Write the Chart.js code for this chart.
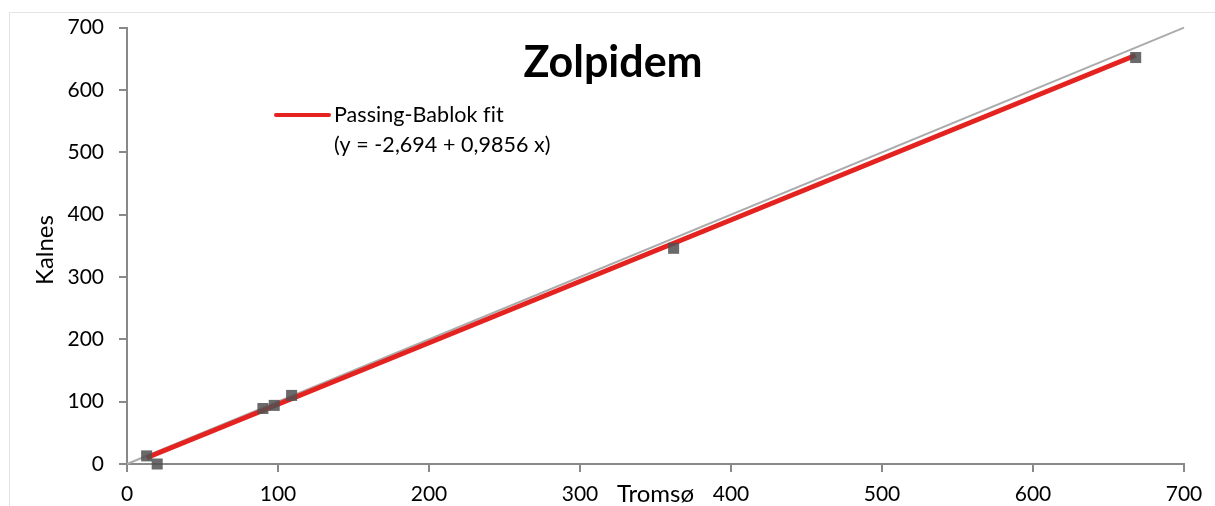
<!DOCTYPE html>
<html><head><meta charset="utf-8">
<script src="https://cdn.jsdelivr.net/npm/chart.js@4"></script>
<style>html,body{margin:0;padding:0;background:#fff;overflow:hidden}#wrap{width:1215px;height:506px;position:relative}canvas{display:block}</style>
</head><body><div id="wrap"><canvas id="c" width="1215" height="506" style="width:1215px;height:506px"></canvas></div>
<script>
const tromso = [13, 20, 90, 97.5, 109, 362, 668];
const kalnes = [13, 0, 89, 94, 110, 346, 652];
const fitIntercept = -2.694;
const fitSlope = 0.9856;
const identityLine = [0, 700];
const xTickValues = [0, 100, 200, 300, 400, 500, 600, 700];
const yTickValues = [0, 100, 200, 300, 400, 500, 600, 700];
const chartTitle = 'Zolpidem';
const legendLines = ['Passing-Bablok fit', '(y = -2,694 + 0,9856 x)'];
const xTitle = 'Tromsø';
const yTitle = 'Kalnes';

const FONT = 'Lato, "Open Sans", sans-serif';
const AXIS = '#898989';
const RED = '#e42320';

const points = tromso.map((x, i) => ({x: x, y: kalnes[i]}));
const xMin = Math.min(...tromso), xMax = Math.max(...tromso);
const fitPts = [xMin, xMax].map(x => ({x: x, y: fitIntercept + fitSlope * x}));
const idPts = identityLine.map(v => ({x: v, y: v}));

const decor = {
  id: 'decor',
  beforeDraw(chart) {
    const ctx = chart.ctx;
    ctx.save();
    ctx.strokeStyle = '#e3e3e3';
    ctx.lineWidth = 1;
    ctx.strokeRect(9.5, 12.5, 1400, 700);
    ctx.restore();
  },
  afterDraw(chart) {
    const ctx = chart.ctx;
    const a = chart.chartArea;
    ctx.save();
    ctx.fillStyle = '#000';
    ctx.font = 'bold 43px ' + FONT;
    ctx.textAlign = 'center';
    ctx.textBaseline = 'alphabetic';
    ctx.fillText(chartTitle, 613, 77);
    ctx.strokeStyle = RED;
    ctx.lineWidth = 4;
    ctx.lineCap = 'round';
    ctx.beginPath();
    ctx.moveTo(276, 115);
    ctx.lineTo(329, 115);
    ctx.stroke();
    ctx.font = '21.5px ' + FONT;
    ctx.textAlign = 'left';
    if ('letterSpacing' in ctx) ctx.letterSpacing = '0.05px';
    ctx.fillText(legendLines[0], 334, 122);
    ctx.fillText(legendLines[1], 334, 152);
    if ('letterSpacing' in ctx) ctx.letterSpacing = '0px';
    ctx.font = '24px ' + FONT;
    ctx.textAlign = 'center';
    ctx.fillText(xTitle, (a.left + a.right) / 2, 502);
    ctx.translate(53, 250);
    ctx.rotate(-Math.PI / 2);
    ctx.fillText(yTitle, 0, 0);
    ctx.restore();
  }
};

new Chart(document.getElementById('c'), {
  type: 'scatter',
  data: {
    datasets: [
      {
        label: 'Data',
        data: points,
        order: 0,
        pointStyle: 'rect',
        pointRadius: 7.8,
        pointHoverRadius: 7.8,
        pointBorderWidth: 0,
        backgroundColor: 'rgba(80,80,80,0.85)',
        borderColor: 'rgba(80,80,80,0.85)',
        clip: false
      },
      {
        label: legendLines.join(' '),
        type: 'line',
        data: fitPts,
        order: 1,
        borderColor: RED,
        borderWidth: 5,
        pointRadius: 0,
        fill: false,
        clip: false
      },
      {
        label: 'Identity',
        type: 'line',
        data: idPts,
        order: 2,
        borderColor: '#ababab',
        borderWidth: 2,
        pointRadius: 0,
        fill: false,
        clip: false
      }
    ]
  },
  options: {
    responsive: false,
    animation: false,
    devicePixelRatio: 1,
    layout: {padding: {left: 0, right: 31, top: 27, bottom: 0}},
    plugins: {legend: {display: false}, tooltip: {enabled: false}, title: {display: false}},
    scales: {
      x: {
        type: 'linear', min: 0, max: 700,
        afterBuildTicks: s => { s.ticks = xTickValues.map(v => ({value: v})); },
        afterFit: s => { s.height = 42; },
        grid: {drawOnChartArea: false, drawTicks: true, tickLength: 8, color: AXIS, lineWidth: 2},
        border: {color: AXIS, width: 2},
        ticks: {font: {family: FONT, size: 21}, color: '#000', padding: 10, maxRotation: 0, autoSkip: false}
      },
      y: {
        type: 'linear', min: 0, max: 700,
        afterBuildTicks: s => { s.ticks = yTickValues.map(v => ({value: v})); },
        afterFit: s => { s.width = 127; },
        grid: {drawOnChartArea: false, drawTicks: true, tickLength: 8, color: AXIS, lineWidth: 2},
        border: {color: AXIS, width: 2},
        ticks: {font: {family: FONT, size: 21}, color: '#000', padding: 15, autoSkip: false}
      }
    }
  },
  plugins: [decor]
});
</script>
</body></html>
